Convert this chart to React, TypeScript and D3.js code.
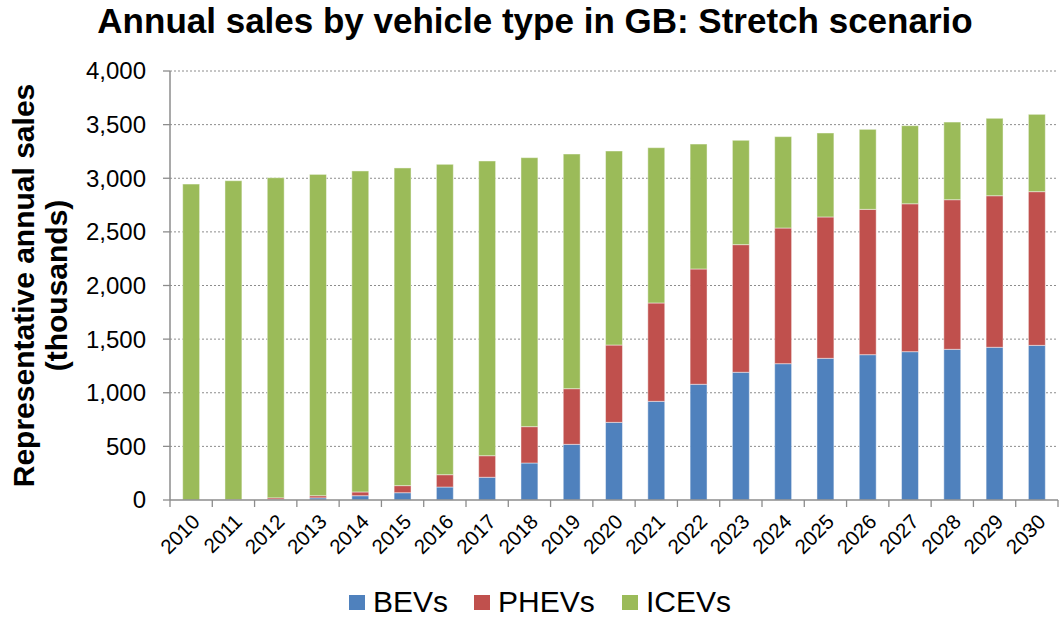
import React from "react";
import * as d3 from "d3";

const years = ["2010","2011","2012","2013","2014","2015","2016","2017","2018","2019","2020","2021","2022","2023","2024","2025","2026","2027","2028","2029","2030"];
const bevs = [0,0,5,20,40,68,121,212,345,519,724,920,1079,1191,1271,1321,1355,1383,1405,1424,1442];
const phevs = [0,3,15,20,35,66,115,201,339,519,721,917,1075,1190,1265,1318,1355,1379,1395,1413,1433];
const icevs = [2946,2974,2985,2996,2993,2962,2894,2748,2508,2188,1809,1448,1165,973,852,783,746,728,724,722,721];
const yTicks = [0,500,1000,1500,2000,2500,3000,3500,4000];
const seriesNames = ["BEVs","PHEVs","ICEVs"];
const colors = ["#4F81BD","#C0504D","#9BBB59"];

const W = 1062, H = 617;
const M = { left: 170, right: 1058, top: 71, bottom: 500 };

export default function App() {
  const x = d3.scaleBand<string>().domain(years).range([M.left, M.right]).paddingInner(0.6).paddingOuter(0.3);
  const xb = d3.scaleBand<string>().domain(years).range([M.left, M.right]);
  const y = d3.scaleLinear().domain([0, 4000]).range([M.bottom, M.top]);
  const rows = years.map((yr, i) => ({ year: yr, BEVs: bevs[i], PHEVs: phevs[i], ICEVs: icevs[i] }));
  const stack = d3.stack<any>().keys(seriesNames)(rows);
  const fmt = d3.format(",");
  const font = "Liberation Sans, Arial, sans-serif";
  const legendX = [349, 474, 622];
  return (
    <svg width={W} height={H} style={{ position: "absolute", left: 0, top: 0, fontFamily: font }}>
      <rect width={W} height={H} fill="#fff" />
      <text x={535} y={33} textAnchor="middle" fontSize={35} fontWeight="bold">Annual sales by vehicle type in GB: Stretch scenario</text>
      {yTicks.map(t => (
        <g key={t}>
          {t > 0 && <line x1={M.left} x2={M.right} y1={y(t)} y2={y(t)} stroke="#8c8c8c" strokeWidth={1} strokeDasharray="2,2" />}
          <line x1={M.left - 7} x2={M.left} y1={y(t)} y2={y(t)} stroke="#8c8c8c" strokeWidth={1.3} />
          <text x={146} y={y(t)} dy="0.35em" textAnchor="end" fontSize={24}>{fmt(t)}</text>
        </g>
      ))}
      {stack.map((s, si) => (
        <g key={s.key}>
          {s.map((d: any, i: number) => (
            d[1] - d[0] > 0 ? (
              <rect key={i} x={x(years[i])} width={x.bandwidth()} y={y(d[1])} height={y(d[0]) - y(d[1])}
                fill={colors[si]} stroke="#ffffff" strokeOpacity={0.45} strokeWidth={1} />
            ) : null
          ))}
        </g>
      ))}
      <line x1={M.left} x2={M.left} y1={M.top} y2={M.bottom} stroke="#8c8c8c" strokeWidth={1.5} />
      <line x1={M.left} x2={M.right} y1={M.bottom} y2={M.bottom} stroke="#8c8c8c" strokeWidth={1.5} />
      {years.map((yr) => (
        <line key={"t" + yr} x1={(xb(yr) as number) + xb.bandwidth()} x2={(xb(yr) as number) + xb.bandwidth()} y1={M.bottom} y2={M.bottom + 7} stroke="#8c8c8c" strokeWidth={1.3} />
      ))}
      <line x1={M.left} x2={M.left} y1={M.bottom} y2={M.bottom + 7} stroke="#8c8c8c" strokeWidth={1.3} />
      {years.map(yr => {
        const cx = (x(yr) as number) + x.bandwidth() / 2;
        return (
          <text key={"l" + yr} transform={`translate(${cx + 10},${M.bottom + 23}) rotate(-45)`} textAnchor="end" fontSize={20.5}>{yr}</text>
        );
      })}
      <text transform={`translate(34,${(M.top + M.bottom) / 2}) rotate(-90)`} textAnchor="middle" fontSize={30} fontWeight="bold">
        <tspan x={0} dy={0}>Representative annual sales</tspan>
        <tspan x={0} dy={33}>(thousands)</tspan>
      </text>
      {seriesNames.map((n, i) => (
        <g key={n}>
          <rect x={legendX[i]} y={595} width={16} height={15} fill={colors[i]} />
          <text x={legendX[i] + 24} y={612} fontSize={30}>{n}</text>
        </g>
      ))}
    </svg>
  );
}
